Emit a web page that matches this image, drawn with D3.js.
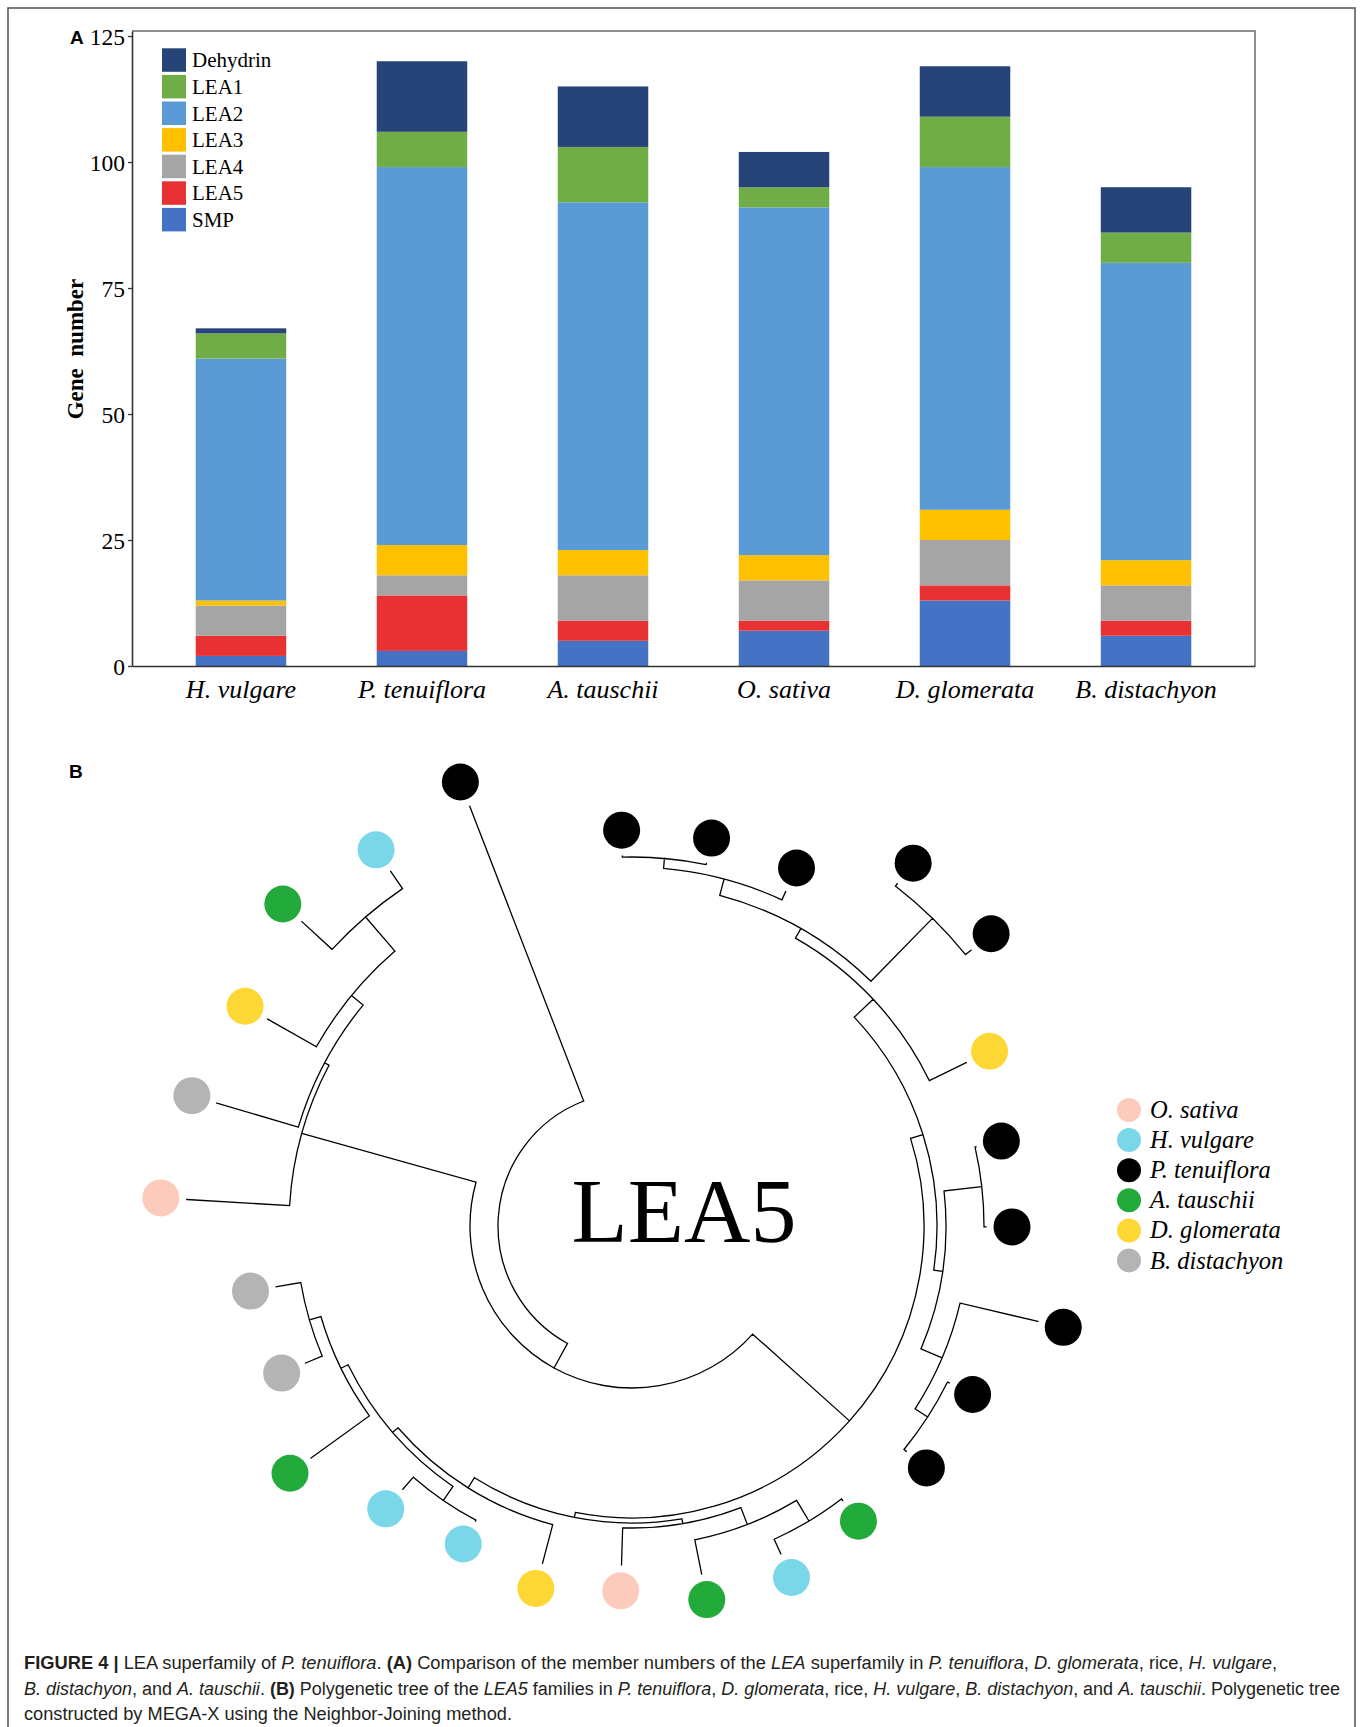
<!DOCTYPE html>
<html><head><meta charset="utf-8">
<script src="https://cdn.jsdelivr.net/npm/d3@7"></script>
<style>
body{margin:0;background:#fff;}
svg{display:block;}
text{white-space:pre;}
</style></head><body>
<svg id="fig" width="1360" height="1727"></svg>
<script>
// ================= Panel A data =================
const speciesNames = ["H. vulgare","P. tenuiflora","A. tauschii","O. sativa","D. glomerata","B. distachyon"];
const stackOrder   = ["SMP","LEA5","LEA4","LEA3","LEA2","LEA1","Dehydrin"]; // bottom -> top
const smpCounts      = [2, 3, 5, 7, 13, 6];
const lea5Counts     = [4, 11, 4, 2, 3, 3];
const lea4Counts     = [6, 4, 9, 8, 9, 7];
const lea3Counts     = [1, 6, 5, 5, 6, 5];
const lea2Counts     = [48, 75, 69, 69, 68, 59];
const lea1Counts     = [5, 7, 11, 4, 10, 6];
const dehydrinCounts = [1, 14, 12, 7, 10, 9];
const yTickValues  = [0, 25, 50, 75, 100, 125];
const legendFamilies = ["Dehydrin","LEA1","LEA2","LEA3","LEA4","LEA5","SMP"];

// ================= Panel B data (LEA5 NJ tree) =================
const treeNodeIds = ["root","X","Z","P3","P2","P1","N234","N23","L2","L3","L4","N56","L5","L6","L7",
  "S","N89","L8","L9","Q","L10","N1112","L11","L12",
  "W","V","M","N1314","L13","L14","L15","L16","K","L17","J","N1819","L18","L19","H","L20","N2122","L21","L22",
  "Y","L23","G","L24","F","L25","E","L26","L27","L1"];
const treeParentIds = ["","root","X","Z","P3","P2","P1","N234","N23","N23","N234","P1","N56","N56","P2",
  "P3","S","N89","N89","S","Q","Q","N1112","N1112",
  "Z","W","V","M","N1314","N1314","M","V","W","K","K","J","N1819","N1819","J","H","H","N2122","N2122",
  "X","Y","Y","G","G","F","F","E","E","root"];
const treeBranchLengths = [0,0.028,0.130,0.013,0.026,0.011,0.017,0.010,0.001,0.001,0.009,0.088,0.003,0.007,0.041,
  0.009,0.038,0.001,0.002,0.023,0.080,0.015,0.002,0.003,
  0.005,0.005,0.018,0.024,0.002,0.016,0.035,0.037,0.012,0.040,0.007,0.017,0.001,0.016,0.008,0.072,0.012,0.018,0.025,
  0.181,0.103,0.005,0.085,0.015,0.056,0.045,0.041,0.021,0.316];
const treeLeafSpecies = ["","","","","","","","","Pt","Pt","Pt","","Pt","Pt","Dg",
  "","","Pt","Pt","","Pt","","Pt","Pt",
  "","","","","At","Hv","At","Os","","Dg","","","Hv","Hv","","At","","Bd","Bd",
  "","Os","","Bd","","Dg","","At","Hv","Pt"];
const treeSpeciesCodes  = ["Os","Hv","Pt","At","Dg","Bd"];
const treeSpeciesLabels = ["O. sativa","H. vulgare","P. tenuiflora","A. tauschii","D. glomerata","B. distachyon"];

// ================= styles =================
const famColor = {Dehydrin:"#264478", LEA1:"#70AD47", LEA2:"#5B9BD5", LEA3:"#FFC000",
                  LEA4:"#A5A5A5", LEA5:"#E83132", SMP:"#4472C4"};
const spColor = {Os:"#FDCBBB", Hv:"#7AD7E8", Pt:"#000000", At:"#22AA3A", Dg:"#FDD835", Bd:"#B4B4B4"};
const serif = '"Liberation Serif","Times New Roman",Times,serif';
const sans = '"Liberation Sans",Arial,Helvetica,sans-serif';

const svg = d3.select("#fig");
svg.append("rect").attr("width",1360).attr("height",1727).attr("fill","#fff");
// outer frame
svg.append("rect").attr("x",8).attr("y",8).attr("width",1347).attr("height",1760)
  .attr("fill","none").attr("stroke","#5a5a5a").attr("stroke-width",1.6);

// ================= Panel A =================
const plot = {left:132, right:1255, top:31, bottom:666};
const x = d3.scaleBand().domain(speciesNames).range([plot.left, plot.right])
  .paddingInner(0.5).paddingOuter(0.352);
const y = d3.scaleLinear().domain([0,126]).range([plot.bottom, plot.top]);

const table = speciesNames.map((s,i)=>({species:s, SMP:smpCounts[i], LEA5:lea5Counts[i], LEA4:lea4Counts[i],
  LEA3:lea3Counts[i], LEA2:lea2Counts[i], LEA1:lea1Counts[i], Dehydrin:dehydrinCounts[i]}));
const series = d3.stack().keys(stackOrder)(table);

svg.append("g").selectAll("g").data(series).join("g")
  .attr("fill", d=>famColor[d.key])
  .selectAll("rect").data(d=>d).join("rect")
  .attr("x", d=>x(d.data.species)).attr("width", x.bandwidth())
  .attr("y", d=>y(d[1])).attr("height", d=>y(d[0])-y(d[1]));

// plot box (top/right)
svg.append("path").attr("d", `M${plot.left},${plot.top}H${plot.right}V${plot.bottom}`)
  .attr("fill","none").attr("stroke","#6a6a6a").attr("stroke-width",1.5);

const yAxis = svg.append("g").attr("transform",`translate(${plot.left},0)`)
  .call(d3.axisLeft(y).tickValues(yTickValues).tickSize(4).tickSizeOuter(0).tickPadding(3));
yAxis.select(".domain").attr("stroke","#333").attr("stroke-width",1.6);
yAxis.selectAll(".tick line").attr("stroke","#333").attr("stroke-width",1.3);
yAxis.selectAll(".tick text").attr("font-family",serif).attr("font-size",23.5).attr("fill","#000")
  .attr("dy","0.34em");

const xAxis = svg.append("g").attr("transform",`translate(0,${plot.bottom})`)
  .call(d3.axisBottom(x).tickSize(0).tickSizeOuter(0));
xAxis.select(".domain").attr("stroke","#333").attr("stroke-width",1.6);
xAxis.selectAll(".tick text").attr("font-family",serif).attr("font-size",26).attr("font-style","italic")
  .attr("fill","#000").attr("y",32).attr("dy",0);

svg.append("text").attr("transform",`translate(83,349) rotate(-90)`).attr("text-anchor","middle")
  .attr("font-family",serif).attr("font-weight","bold").attr("font-size",23).text("Gene  number");

svg.append("text").attr("x",70).attr("y",44).attr("font-family",sans).attr("font-weight","bold")
  .attr("font-size",19).text("A");

const leg = svg.append("g").selectAll("g").data(legendFamilies).join("g")
  .attr("transform",(d,i)=>`translate(162,${48.3 + i*26.6})`);
leg.append("rect").attr("width",24).attr("height",23.5).attr("fill",d=>famColor[d]);
leg.append("text").attr("x",30).attr("y",19).attr("font-family",serif).attr("font-size",21).text(d=>d);

// ================= Panel B =================
svg.append("text").attr("x",69).attr("y",778).attr("font-family",sans).attr("font-weight","bold")
  .attr("font-size",19).text("B");

const treeRows = treeNodeIds.map((id,i)=>({id, parent:treeParentIds[i]||null, len:treeBranchLengths[i], sp:treeLeafSpecies[i]}));
const root = d3.stratify().id(d=>d.id).parentId(d=>d.parent)(treeRows);
root.eachBefore(n=>{ n.dist = n.parent ? n.parent.dist + n.data.len : 0; });

const cx = 632, cy = 1226;
const rScale = d3.scaleLinear().domain([0, 0.32]).range([134, 454]);
const leaves = root.leaves();
const wrapGap = 1.5;
const angleScale = d3.scaleLinear().domain([0, leaves.length - 1 + wrapGap]).range([-1.5, 358.5]);
leaves.forEach((l,i)=>{ l.ang = angleScale(i); });
root.eachAfter(n=>{ if(n.children) n.ang = d3.mean(n.children, c=>c.ang); });

const rad = a => a*Math.PI/180;
const pt = (a,r) => { const p = d3.pointRadial(rad(a), r); return [cx+p[0], cy+p[1]]; };

const tp = d3.path();
root.each(n=>{
  if(n.parent){
    const p0 = pt(n.ang, rScale(n.parent.dist)), p1 = pt(n.ang, rScale(n.dist));
    tp.moveTo(p0[0],p0[1]); tp.lineTo(p1[0],p1[1]);
  }
  if(n.children){
    const a0 = n.children[0].ang, a1 = n.children[n.children.length-1].ang;
    const r = rScale(n.dist);
    const s = pt(a0, r);
    tp.moveTo(s[0], s[1]);
    tp.arc(cx, cy, r, rad(a0-90), rad(a1-90), false);
  }
});
svg.append("path").attr("d", tp.toString()).attr("fill","none").attr("stroke","#000")
  .attr("stroke-width",1.3).attr("stroke-linecap","square");

svg.append("g").selectAll("circle").data(leaves).join("circle")
  .attr("cx", d=>pt(d.ang, rScale(d.dist)+26)[0])
  .attr("cy", d=>pt(d.ang, rScale(d.dist)+26)[1])
  .attr("r",18.5).attr("fill", d=>spColor[d.data.sp]);

svg.append("text").attr("x",684).attr("y",1242).attr("text-anchor","middle")
  .attr("font-family",serif).attr("font-size",92).text("LEA5");

const tleg = svg.append("g").selectAll("g").data(treeSpeciesCodes).join("g")
  .attr("transform",(d,i)=>`translate(1129,${1110 + i*30.1})`);
tleg.append("circle").attr("r",12).attr("fill",d=>spColor[d]);
tleg.append("text").attr("x",21).attr("y",8).attr("font-family",serif).attr("font-style","italic")
  .attr("font-size",24.5).text((d,i)=>treeSpeciesLabels[i]);

// ================= Caption =================
const capFont = '"Liberation Sans Narrow","Arial Narrow","Liberation Sans",Arial,sans-serif';
const captionLines = [
  {y:1669, len:1253, parts:[["FIGURE 4 |","b"],[" LEA superfamily of ",""],["P. tenuiflora","i"],[". ",""],["(A)","b"],
    [" Comparison of the member numbers of the ",""],["LEA","i"],[" superfamily in ",""],["P. tenuiflora","i"],[", ",""],
    ["D. glomerata","i"],[", rice, ",""],["H. vulgare","i"],[",",""]]},
  {y:1695, len:1316, parts:[["B. distachyon","i"],[", and ",""],["A. tauschii","i"],[". ",""],["(B)","b"],
    [" Polygenetic tree of the ",""],["LEA5","i"],[" families in ",""],["P. tenuiflora","i"],[", ",""],["D. glomerata","i"],
    [", rice, ",""],["H. vulgare","i"],[", ",""],["B. distachyon","i"],[", and ",""],["A. tauschii","i"],[". Polygenetic tree",""]]},
  {y:1720, len:488, parts:[["constructed by MEGA-X using the Neighbor-Joining method.",""]]}
];
captionLines.forEach(line=>{
  const t = svg.append("text").attr("x",24).attr("y",line.y).attr("font-family",capFont)
    .attr("font-size",18).attr("fill","#231f20")
    .attr("textLength",line.len).attr("lengthAdjust","spacingAndGlyphs");
  line.parts.forEach(([txt,st])=>{
    const ts = t.append("tspan").text(txt);
    if(st==="b") ts.attr("font-weight","bold");
    if(st==="i") ts.attr("font-style","italic");
  });
});
</script>
</body></html>
